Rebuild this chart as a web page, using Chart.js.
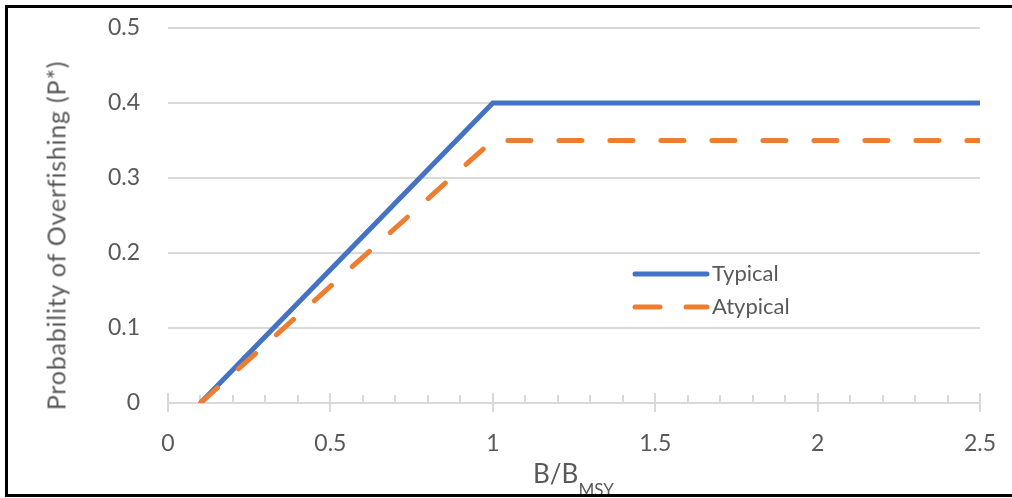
<!DOCTYPE html>
<html>
<head>
<meta charset="utf-8">
<script src="https://cdn.jsdelivr.net/npm/chart.js@4/dist/chart.umd.min.js"></script>
<style>
  html, body { margin: 0; padding: 0; background: #fff; overflow: hidden; }
  #wrap { position: relative; width: 1012px; height: 498px; font-family: Lato, sans-serif; color: #595959; }
  #chart { position: absolute; left: 0; top: 0; }
  #frame { position: absolute; left: 5px; top: 5px; width: 1100px; height: 492px; box-sizing: border-box;
           border: 3px solid #000; border-right: none; pointer-events: none; }
  #ytitle { position: absolute; left: -144px; top: 223px; width: 400px; height: 25px; line-height: 25px;
            font-size: 25px; letter-spacing: 0.8px; text-align: center; transform: rotate(-90deg);
            transform-origin: 200px 12.5px; white-space: nowrap; }
  #xtitle { position: absolute; left: 533px; top: 460px; font-size: 26px; line-height: 26px; white-space: nowrap; }
  #xtitle span { font-size: 17px; position: relative; top: 13px; }
  .leg { position: absolute; font-size: 22px; line-height: 22px; white-space: nowrap; }
  #legsvg { position: absolute; left: 620px; top: 262px; }
</style>
</head>
<body>
<div id="wrap">
  <canvas id="chart" width="1012" height="498"></canvas>
  <div id="ytitle">Probability of Overfishing (P*)</div>
  <div id="xtitle">B/B<span>MSY</span></div>
  <svg id="legsvg" width="100" height="60">
    <line x1="15" y1="12" x2="87" y2="12" stroke="#4472C4" stroke-width="5" stroke-linecap="round"/>
    <line x1="15" y1="45" x2="40" y2="45" stroke="#ED7D31" stroke-width="5" stroke-linecap="round"/>
    <line x1="66" y1="45" x2="87" y2="45" stroke="#ED7D31" stroke-width="5" stroke-linecap="round"/>
  </svg>
  <div class="leg" style="left:712px; top:262px;">Typical</div>
  <div class="leg" style="left:712px; top:295px;">Atypical</div>
  <div id="frame"></div>
</div>
<script>
/* ================= DATA ================= */
const bRatio = [0.1, 1, 2.5];          // B/BMSY
const typical = [0, 0.4, 0.4];
const atypical = [0, 0.35, 0.35];
const xTickValues = [0, 0.5, 1, 1.5, 2, 2.5];
const yTickValues = [0, 0.1, 0.2, 0.3, 0.4, 0.5];
const xMinorStep = 0.1;

const BLUE = '#4472C4';
const ORANGE = '#ED7D31';
const GRID = '#d9d9d9';

/* ================= X AXIS TICK MARKS ================= */
// major ticks cross the axis line, minor ticks sit on top of it (Excel style)
const axisTicks = {
  id: 'axisTicks',
  beforeDatasetsDraw(chart) {
    const { ctx, scales: { x, y } } = chart;
    const y0 = y.getPixelForValue(0);
    ctx.save();
    ctx.strokeStyle = GRID;
    ctx.lineWidth = 2;
    ctx.beginPath();
    for (let i = 0; i <= Math.round((x.max - x.min) / xMinorStep); i++) {
      const v = x.min + i * xMinorStep;
      const px = Math.round(x.getPixelForValue(v));
      const major = xTickValues.some(t => Math.abs(t - v) < 1e-6);
      ctx.moveTo(px, major ? y0 - 10 : y0 - 8);
      ctx.lineTo(px, major ? y0 + 9 : y0);
    }
    ctx.stroke();
    ctx.restore();
  }
};

// fixed plot box: no extra room reserved for half labels
const fixX = s => { s.height = 95; s.paddingLeft = 0; s.paddingRight = 0; };
const fixY = s => { s.width = 168; s.paddingTop = 0; s.paddingBottom = 0; };

/* ================= CHART ================= */
const ctx = document.getElementById('chart').getContext('2d');
new Chart(ctx, {
  type: 'line',
  data: {
    datasets: [
      {
        label: 'Atypical',
        data: bRatio.map((b, i) => ({ x: b, y: atypical[i] })),
        borderColor: ORANGE,
        borderWidth: 5,
        borderDash: [23, 28],
        borderCapStyle: 'round',
        pointRadius: 0,
        tension: 0,
        order: 0
      },
      {
        label: 'Typical',
        data: bRatio.map((b, i) => ({ x: b, y: typical[i] })),
        borderColor: BLUE,
        borderWidth: 5,
        borderJoinStyle: 'miter',
        pointRadius: 0,
        tension: 0,
        order: 1
      }
    ]
  },
  options: {
    responsive: false,
    animation: false,
    layout: { padding: { top: 28, right: 32, left: 0, bottom: 0 } },
    plugins: { legend: { display: false }, tooltip: { enabled: false } },
    scales: {
      x: {
        type: 'linear',
        min: 0,
        max: 2.5,
        afterBuildTicks: s => { s.ticks = xTickValues.map(v => ({ value: v })); },
        afterFit: fixX,
        grid: { display: false, drawTicks: false, tickLength: 0 },
        border: { display: true, color: GRID, width: 2 },
        ticks: { color: '#595959', font: { family: 'Lato', size: 23 }, padding: 27, maxRotation: 0,
                 callback: v => String(v) }
      },
      y: {
        min: 0,
        max: 0.5,
        afterBuildTicks: s => { s.ticks = yTickValues.map(v => ({ value: v })); },
        afterFit: fixY,
        grid: { color: GRID, lineWidth: 2, drawTicks: false, tickLength: 0 },
        border: { display: false },
        ticks: { color: '#595959', font: { family: 'Lato', size: 23 }, padding: 28,
                 callback: v => String(v) }
      }
    }
  },
  plugins: [axisTicks]
});
</script>
</body>
</html>
